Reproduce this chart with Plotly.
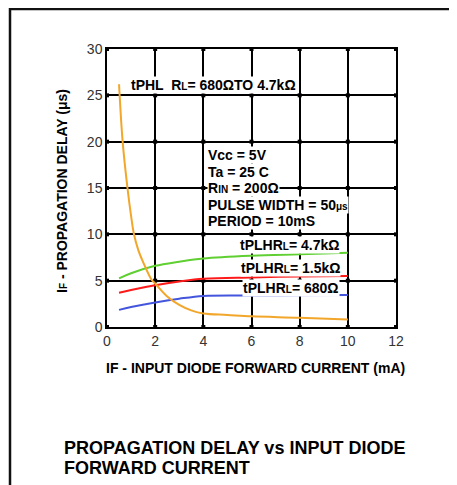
import plotly.graph_objects as go

# ---- data ----
x_tphl = [0.5, 0.65, 0.85, 1.0, 1.12, 1.3, 1.5, 1.85, 2.0, 2.5, 3.0, 3.5, 4.0, 5.0, 6.0, 8.0, 10.0]
y_tphl = [26.2, 20.0, 15.0, 12.0, 10.0, 8.3, 7.0, 5.1, 4.7, 3.3, 2.4, 1.8, 1.45, 1.3, 1.15, 1.0, 0.8]

x_plh = [0.5, 1.0, 2.0, 3.0, 4.0, 6.0, 8.0, 10.0]
y_plh_47k = [5.25, 5.8, 6.6, 7.05, 7.4, 7.7, 7.85, 8.0]
y_plh_15k = [3.7, 4.0, 4.5, 4.9, 5.2, 5.35, 5.45, 5.5]
y_plh_680 = [1.85, 2.15, 2.65, 3.05, 3.35, 3.4, 3.42, 3.45]

x_ticks = [0, 2, 4, 6, 8, 10, 12]
y_ticks = [0, 5, 10, 15, 20, 25, 30]

FONT = "Liberation Sans, Arial, sans-serif"
OFF = 8  # page body margin
W, H = 457 - OFF, 485 - OFF
# plot area in reference (screen) pixels
PL, PR, PT, PB = 107, 396, 49, 327
L, T = PL - OFF, PT - OFF
R, B = W - (PR - OFF), H - (PB - OFF)
PW, PH = PR - PL, PB - PT


def px(xp):
    return (xp - PL) / PW


def py(yp):
    return (PB - yp) / PH


fig = go.Figure()

# grid intersection dots
gx = [a for a in x_ticks for b in y_ticks]
gy = [b for a in x_ticks for b in y_ticks]
fig.add_trace(go.Scatter(x=gx, y=gy, mode="markers",
                         marker=dict(symbol="square", size=4, color="black"),
                         hoverinfo="skip", cliponaxis=False))

fig.add_trace(go.Scatter(x=x_plh, y=y_plh_47k, mode="lines", line=dict(color="#5fcf32", width=2, shape="spline")))
fig.add_trace(go.Scatter(x=x_plh, y=y_plh_15k, mode="lines", line=dict(color="#ff1a1a", width=2, shape="spline")))
fig.add_trace(go.Scatter(x=x_plh, y=y_plh_680, mode="lines", line=dict(color="#4455dd", width=2, shape="spline")))
fig.add_trace(go.Scatter(x=x_tphl, y=y_tphl, mode="lines", line=dict(color="#f2a62a", width=2, shape="spline")))

small = "<span style='font-size:10px'>{}</span>"

ann = []
def label(x, y, text, xanchor="left", size=14):
    ann.append(dict(x=x, y=y, xref="x", yref="y", text=text, showarrow=False,
                    xanchor=xanchor, yanchor="middle", bgcolor="white", borderpad=0,
                    font=dict(family=FONT, size=size, color="black", weight="bold")))

label(0.96, 26.1, "tPHL  R" + small.format("L") + "= 680\u03a9TO 4.7k\u03a9")
label(4.17, 18.55, "Vcc = 5V")
label(4.17, 16.75, "Ta = 25 C")
label(4.17, 14.95, "R" + small.format("IN") + " = 200\u03a9")
label(4.17, 13.2, "PULSE WIDTH = 50" + small.format("\u03bcs"))
label(4.17, 11.4, "PERIOD = 10mS")
label(9.67, 8.85, "tPLHR" + small.format("L") + "= 4.7k\u03a9", xanchor="right")
label(9.7, 6.4, "tPLHR" + small.format("L") + "= 1.5k\u03a9", xanchor="right")
label(9.67, 4.25, "tPLHR" + small.format("L") + "= 680\u03a9", xanchor="right")

# axis titles
ann.append(dict(x=px(255), y=py(368), xref="paper", yref="paper", showarrow=False,
                text="IF - INPUT DIODE FORWARD CURRENT (mA)", xanchor="center", yanchor="middle",
                font=dict(family=FONT, size=14, color="black", weight="bold")))
ann.append(dict(x=px(62), y=py(191), xref="paper", yref="paper", showarrow=False, textangle=-90,
                text="I" + small.format("F") + " - PROPAGATION DELAY (\u03bcs)",
                xanchor="center", yanchor="middle",
                font=dict(family=FONT, size=14, color="black", weight="bold")))
# caption
for yy, t in [(447.5, "PROPAGATION DELAY vs INPUT DIODE"), (468, "FORWARD CURRENT")]:
    ann.append(dict(x=px(62), y=py(yy), xref="paper", yref="paper", showarrow=False,
                    text=t, xanchor="left", yanchor="middle",
                    font=dict(family=FONT, size=18, color="black", weight="bold")))

shapes = [
    dict(type="line", xref="paper", yref="paper", x0=px(10), x1=px(10), y0=py(8), y1=py(520),
         line=dict(color="#111", width=2.5)),
    dict(type="line", xref="paper", yref="paper", x0=px(9), x1=px(480), y0=py(9), y1=py(9),
         line=dict(color="#111", width=2.5)),
]

fig.update_layout(
    width=W, height=H, margin=dict(l=L, r=R, t=T, b=B),
    paper_bgcolor="white", plot_bgcolor="white", showlegend=False,
    annotations=ann, shapes=shapes,
    xaxis=dict(range=[0, 12], tickvals=x_ticks, showgrid=True, gridcolor="black", gridwidth=1.5,
               showline=True, linecolor="black", linewidth=1.5, mirror=True, zeroline=False,
               ticks="", tickfont=dict(family=FONT, size=14, color="#333")),
    yaxis=dict(range=[0, 30], tickvals=y_ticks, showgrid=True, gridcolor="black", gridwidth=1.5,
               showline=True, linecolor="black", linewidth=1.5, mirror=True, zeroline=False,
               ticks="", tickfont=dict(family=FONT, size=14, color="#333")),
    font=dict(family=FONT),
)

fig.write_html("out.html")
